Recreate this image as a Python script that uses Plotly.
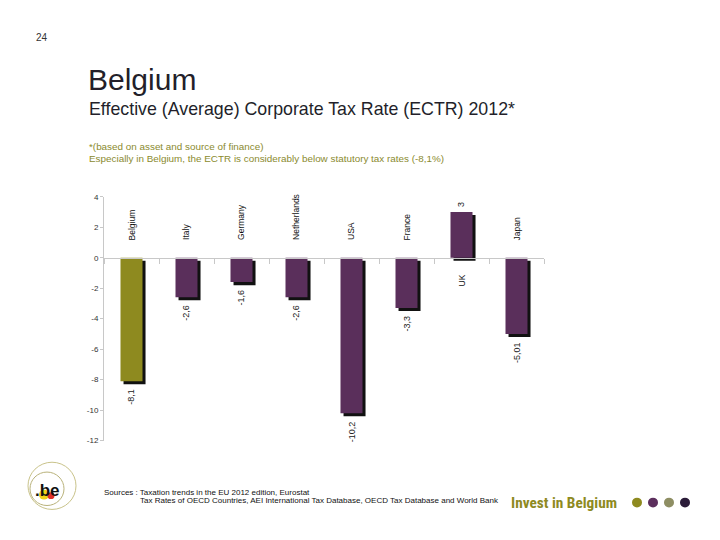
import plotly.graph_objects as go

# ---- data ----
countries = ["Belgium", "Italy", "Germany", "Netherlands", "USA", "France", "UK", "Japan"]
ectr_diff = [-8.1, -2.6, -1.6, -2.6, -10.2, -3.3, 3.0, -5.01]
value_labels = ["-8,1", "-2,6", "-1,6", "-2,6", "-10,2", "-3,3", "3", "-5,01"]
y_ticks = [-12, -10, -8, -6, -4, -2, 0, 2, 4]

OLIVE = "#8e8a1f"
PURPLE = "#5a2f5b"
bar_colors = [OLIVE if c == "Belgium" else PURPLE for c in countries]

W, H = 720, 540
FONT = "Arial, Liberation Sans, sans-serif"

def px(x):
    return x / W

def py(y):
    return 1 - y / H

x_dom = [px(104), px(544)]
y_dom = [py(444), py(196)]
y_range = [-12, 4]
zero_pos = y_dom[0] + (0 - y_range[0]) / (y_range[1] - y_range[0]) * (y_dom[1] - y_dom[0])

fig = go.Figure()

# drop shadow
fig.add_trace(go.Bar(
    x=countries, y=ectr_diff, base=-0.2, width=0.4, offset=-0.2 + 0.055,
    marker=dict(color="#111111", line=dict(width=0)), hoverinfo="skip", showlegend=False,
))
# main bars
fig.add_trace(go.Bar(
    x=countries, y=ectr_diff, width=0.4, offset=-0.2,
    marker=dict(color=bar_colors, line=dict(width=0)),
    cliponaxis=False, showlegend=False,
))

annotations = []
lab_font = dict(family=FONT, size=8.5, color="#111111")
for c, v, lab in zip(countries, ectr_diff, value_labels):
    if v < 0:
        annotations.append(dict(x=c, y=1.0, xref="x", yref="y", text=c, textangle=-90,
                                showarrow=False, yanchor="bottom", xanchor="center", font=lab_font))
        annotations.append(dict(x=c, y=v, xref="x", yref="y", text=lab, textangle=-90,
                                showarrow=False, yanchor="top", xanchor="center", yshift=-6,
                                font=dict(family=FONT, size=9, color="#222222")))
    else:
        annotations.append(dict(x=c, y=-1.0, xref="x", yref="y", text=c, textangle=-90,
                                showarrow=False, yanchor="top", xanchor="center", font=lab_font))
        annotations.append(dict(x=c, y=v, xref="x", yref="y", text=lab, textangle=-90,
                                showarrow=False, yanchor="bottom", xanchor="center", yshift=3,
                                font=dict(family=FONT, size=9, color="#222222")))

def txt(x, y, s, size, color, xanchor="left", bold=False, family=FONT):
    annotations.append(dict(x=px(x), y=py(y), xref="paper", yref="paper", text=(f"<b>{s}</b>" if bold else s),
                            showarrow=False, xanchor=xanchor, yanchor="middle",
                            font=dict(family=family, size=size, color=color)))

txt(34, 34, "24", 10, "#333333")
txt(86, 77, "Belgium", 30, "#231f2a")
txt(87, 107, "Effective (Average) Corporate Tax Rate (ECTR) 2012*", 17.8, "#231f2a")
txt(87, 145, "*(based on asset and source of finance)", 9.9, "#8a8a2e")
txt(87, 157, "Especially in Belgium, the ECTR is considerably below statutory tax rates (-8,1%)", 9.9, "#8a8a2e")
txt(102, 497, "Sources : Taxation trends in the EU 2012 edition, Eurostat", 8, "#111111")
txt(138, 505, "Tax Rates of OECD Countries, AEI International Tax Database, OECD Tax Database and World Bank", 8, "#111111")
txt(509, 507, "Invest in Belgium", 15.3, OLIVE, bold=True,
    family="Liberation Sans Narrow, Arial Narrow, Roboto Condensed, sans-serif")
txt(47, 495, ".be", 17, "#111111", xanchor="center", bold=True)

shapes = []
def circle(cx, cy, r, fill=None, line=None, lw=1, layer="above"):
    shapes.append(dict(type="circle", xref="paper", yref="paper",
                       x0=px(cx - r), x1=px(cx + r), y0=py(cy + r), y1=py(cy - r),
                       fillcolor=fill if fill else "rgba(0,0,0,0)",
                       line=dict(color=line if line else "rgba(0,0,0,0)", width=lw), layer=layer))

# logo
circle(52, 490, 24, line="#c9c38a", lw=1)
circle(47, 493, 17, line="#b9b27a", lw=1)
circle(44, 499, 5, fill="#f2d21b", layer="below")
circle(51, 500, 3.5, fill="#e0302a", layer="below")

# brand dots
for cx, col in zip([637, 653, 669, 685], ["#8e8a1f", "#5c2f5d", "#8e8e63", "#2b1c39"]):
    circle(cx, 507, 5, fill=col)

fig.update_layout(
    width=W, height=H, margin=dict(l=0, r=0, t=0, b=0),
    paper_bgcolor="white", plot_bgcolor="white",
    barmode="overlay", bargap=0.6,
    annotations=annotations, shapes=shapes,
    xaxis=dict(domain=x_dom, anchor="free", position=zero_pos, showticklabels=False,
               showline=True, linecolor="#c8c8c8", linewidth=1, ticks="outside",
               tickson="boundaries", ticklen=5, tickcolor="#c8c8c8", showgrid=False,
               zeroline=False, fixedrange=True),
    yaxis=dict(domain=y_dom, range=y_range, tickvals=y_ticks, ticktext=[str(t) for t in y_ticks],
               showline=True, linecolor="#c8c8c8", linewidth=1, ticks="outside", ticklen=3,
               tickcolor="#c8c8c8", showgrid=False, zeroline=False,
               tickfont=dict(family=FONT, size=8, color="#333333")),
    font=dict(family=FONT),
)

fig.write_html("out.html", config={"displayModeBar": False},
               post_script="document.body.style.margin='0';document.body.style.overflow='hidden';")
